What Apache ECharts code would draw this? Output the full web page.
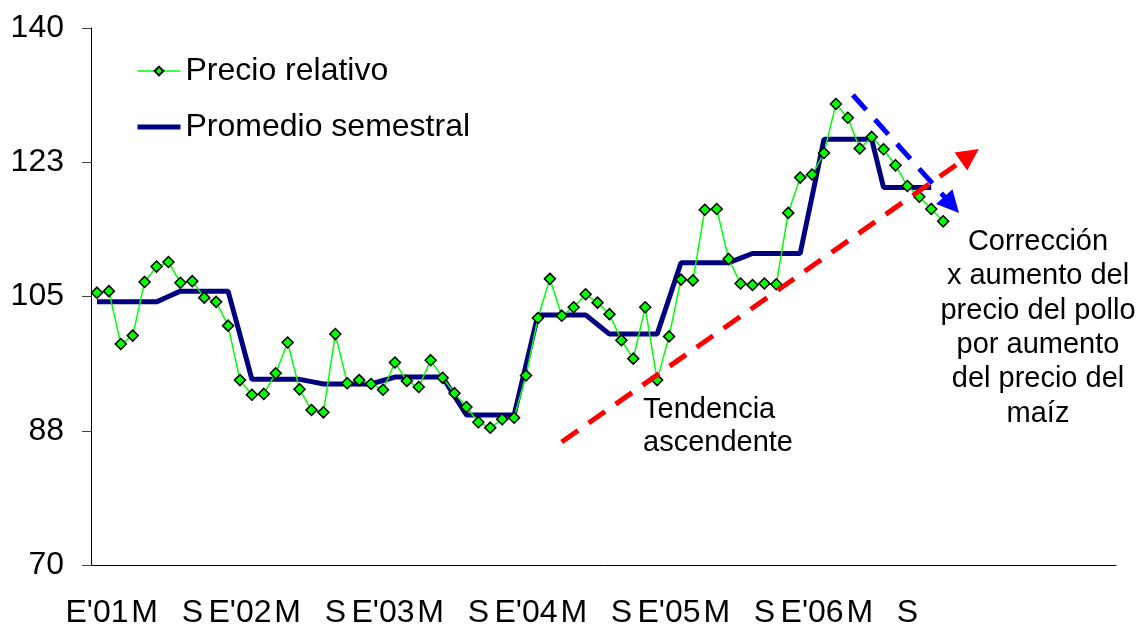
<!DOCTYPE html>
<html><head><meta charset="utf-8">
<script src="https://cdn.jsdelivr.net/npm/echarts@6/dist/echarts.min.js"></script>
<style>html,body{margin:0;padding:0;background:#fff}#c{width:1141px;height:632px}</style>
</head><body><div id="c"></div>
<script>
const FONT = "'Liberation Sans', Arial, Helvetica, sans-serif";
// Tick-label building blocks (Spanish month initials, year on January)
const monthInitials = ['E','F','M','A','M','J','J','A','S','O','N','D'];
const years = ['01','02','03','04','05','06'];
const totalCategories = 86;
const categories = [];
years.forEach(function (yy) {
  monthInitials.forEach(function (m, i) { categories.push(i === 0 ? "E'" + yy : m); });
});
while (categories.length < totalCategories) categories.push('');

// Precio relativo (monthly, Jan 2001 - Dec 2006)
const precioRelativo = [
  105.5, 105.7, 98.8, 99.9, 106.9, 108.9, 109.5, 106.8, 107.0, 104.85, 104.3, 101.2,
  94.1, 92.2, 92.3, 95.0, 99.0, 92.9, 90.2, 89.9, 100.1, 93.7, 94.1, 93.6,
  92.85, 96.4, 94.0, 93.2, 96.7, 94.4, 92.4, 90.6, 88.6, 87.9, 89.0, 89.2,
  94.7, 102.2, 107.3, 102.5, 103.6, 105.3, 104.2, 102.7, 99.3, 96.9, 103.6, 94.1,
  99.8, 107.2, 107.1, 116.3, 116.4, 109.9, 106.7, 106.5, 106.7, 106.6, 115.9, 120.5,
  120.9, 123.7, 130.1, 128.3, 124.3, 125.8, 124.2, 122.1, 119.4, 118.0, 116.4, 114.8
];
// Promedio semestral
const promedioSemestral = [
  104.3, 104.3, 104.3, 104.3, 104.3, 104.3, 105.0, 105.7, 105.7, 105.7, 105.7, 105.7,
  100.0, 94.2, 94.2, 94.2, 94.2, 94.2, 93.9, 93.6, 93.6, 93.6, 93.6, 93.6,
  94.05, 94.5, 94.5, 94.5, 94.5, 94.5, 92.0, 89.55, 89.55, 89.55, 89.55, 89.55,
  96.1, 102.6, 102.6, 102.6, 102.6, 102.6, 101.35, 100.1, 100.1, 100.1, 100.1, 100.1,
  104.75, 109.4, 109.4, 109.4, 109.4, 109.4, 110.0, 110.6, 110.6, 110.6, 110.6, 110.6,
  118.05, 125.5, 125.5, 125.5, 125.5, 125.5, 119.2, 119.2, 119.2, 119.2, 119.2, null
];
// Y axis
const yMin = 70, yMax = 140, yInterval = 17.5;
// Annotation arrows, in (month index, value) coordinates
const trendArrow = [[38.99, 86.03], [73.24, 123.41]];
const correctionArrow = [[63.42, 131.27], [71.71, 116.96]];
const trendText = 'Tendencia\nascendente';
const correctionText = 'Corrección\nx aumento del\nprecio del pollo\npor aumento\ndel precio del\nmaíz';

const chart = echarts.init(document.getElementById('c'), null, {renderer: 'canvas'});
chart.setOption({
  animation: false,
  backgroundColor: '#ffffff',
  textStyle: {fontFamily: FONT},
  grid: {left: 91, right: 25, top: 28, bottom: 67, containLabel: false, outerBoundsMode: 'none'},
  legend: {
    orient: 'vertical', left: 135, top: 55, padding: 0, itemWidth: 43, itemHeight: 11, itemGap: 24,
    textStyle: {fontSize: 32, lineHeight: 32, color: '#000', fontFamily: FONT},
    data: [
      {name: 'Precio relativo', lineStyle: {width: 1.5}},
      {name: 'Promedio semestral', lineStyle: {width: 5},
        itemStyle: {opacity: 0, color: 'rgba(0,0,0,0)', borderWidth: 0}}
    ],
    selectedMode: false
  },
  xAxis: [{
    type: 'category', data: categories, boundaryGap: true,
    axisLine: {onZero: false, lineStyle: {color: '#000', width: 1}},
    axisTick: {interval: 3, length: 10, lineStyle: {color: '#555'}},
    axisLabel: {interval: 3, fontSize: 32, lineHeight: 32, margin: 32, color: '#000', fontFamily: FONT},
    splitLine: {show: false}
  }, {
    type: 'value', min: -0.5, max: totalCategories - 0.5, show: false
  }],
  yAxis: [{
    type: 'value', min: yMin, max: yMax, interval: yInterval,
    axisLine: {show: true, onZero: false, lineStyle: {color: '#000', width: 1}},
    axisTick: {show: true, length: 9, lineStyle: {color: '#444'}},
    axisLabel: {fontSize: 32, margin: 27, color: '#000', fontFamily: FONT,
      formatter: function (v) { return String(Math.round(v)); }},
    splitLine: {show: false}
  }],
  series: [{
    name: 'Promedio semestral', type: 'line', data: promedioSemestral,
    symbol: 'none', lineStyle: {color: '#000080', width: 5}, itemStyle: {color: '#000080'},
    z: 2, silent: true
  }, {
    name: 'Precio relativo', type: 'line', data: precioRelativo,
    symbol: 'diamond', symbolSize: 11, showSymbol: true, showAllSymbol: true,
    lineStyle: {color: '#00ff00', width: 1.5},
    itemStyle: {color: '#00ff00', borderColor: '#000', borderWidth: 1.5},
    z: 3, silent: true
  }, {
    name: 'arrows', type: 'line', xAxisIndex: 1, yAxisIndex: 0, data: [], silent: true,
    markLine: {
      silent: true, animation: false, symbol: ['none', 'triangle'], symbolSize: 22,
      label: {show: false},
      data: [
        [{coord: trendArrow[0], lineStyle: {color: '#ff0000', width: 5, type: [20, 13]}, itemStyle: {color: '#ff0000'}},
         {coord: trendArrow[1]}],
        [{coord: correctionArrow[0], lineStyle: {color: '#0000ff', width: 5, type: [20, 13]}, itemStyle: {color: '#0000ff'}},
         {coord: correctionArrow[1]}]
      ]
    }
  }],
  graphic: [{
    type: 'text', x: 643, y: 393, silent: true,
    style: {text: trendText, fontSize: 29, fontFamily: FONT, fill: '#000', lineHeight: 33,
      align: 'left', verticalAlign: 'top', textAlign: 'left', textVerticalAlign: 'top'}
  }, {
    type: 'text', x: 1038, y: 225, silent: true,
    style: {text: correctionText, fontSize: 29, fontFamily: FONT, fill: '#000', lineHeight: 34.3,
      align: 'center', verticalAlign: 'top', textAlign: 'center', textVerticalAlign: 'top'}
  }]
});
</script></body></html>
